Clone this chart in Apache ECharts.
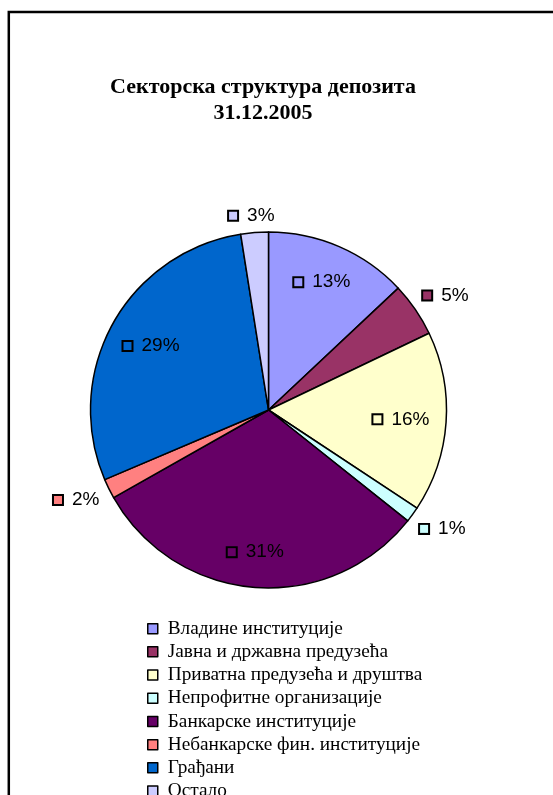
<!DOCTYPE html>
<html>
<head>
<meta charset="utf-8">
<style>html,body{margin:0;padding:0;background:#fff;}#chart{width:553px;height:795px;}</style>
<script src="https://cdn.jsdelivr.net/npm/echarts@6/dist/echarts.min.js"></script>
</head>
<body>
<div id="chart"></div>
<script>
const titleText = 'Секторска структура депозита\n31.12.2005';
const categories = ['Владине институције', 'Јавна и државна предузећа', 'Приватна предузећа и друштва', 'Непрофитне организације', 'Банкарске институције', 'Небанкарске фин. институције', 'Грађани', 'Остало'];
const shares = [13.0, 4.9, 16.4, 1.4, 31.1, 1.8, 28.9, 2.5];
const colors = ['#9999FF', '#993366', '#FFFFCC', '#CCFFFF', '#660066', '#FF8080', '#0066CC', '#CCCCFF'];

const CX = 268.5, CY = 410, R = 178, IN_GAP = 30, OUT_GAP = 9, LABEL_HH = 8;

const chart = echarts.init(document.getElementById('chart'));
const rich = { t: { fontFamily: 'Liberation Sans', fontSize: 19, color: '#000', padding: [0, 0, 0, 10], verticalAlign: 'middle' } };
colors.forEach((c, i) => {
  rich['s' + i] = { width: 8, height: 8, backgroundColor: c, borderColor: '#000', borderWidth: 2, verticalAlign: 'middle' };
});
const clamp = v => Math.max(-1, Math.min(1, v));

chart.setOption({
  animation: false,
  backgroundColor: '#fff',
  graphic: [{
    type: 'rect', shape: { x: 8.8, y: 12, width: 800, height: 1000 },
    style: { fill: 'none', stroke: '#000', lineWidth: 2.5 }, silent: true
  }],
  title: {
    text: titleText, left: 263, top: 74, textAlign: 'center', padding: 0,
    textStyle: { fontFamily: 'Liberation Serif', fontWeight: 'bold', fontSize: 22, lineHeight: 26, color: '#000' }
  },
  legend: {
    orient: 'vertical', left: 147, top: 619, height: 300, padding: 0, itemGap: 3.9,
    itemWidth: 10, itemHeight: 10, icon: 'rect',
    data: categories,
    itemStyle: { borderColor: '#000', borderWidth: 1.5 },
    textStyle: { fontFamily: 'Liberation Serif', fontSize: 19.3, lineHeight: 19.3, color: '#000', padding: [0, 0, 0, 5] }
  },
  series: [{
    type: 'pie', center: [CX, CY], radius: R, startAngle: 90, clockwise: true,
    avoidLabelOverlap: false, silent: true,
    data: categories.map((n, i) => ({ name: n, value: shares[i], itemStyle: { color: colors[i] } })),
    itemStyle: { borderColor: '#000', borderWidth: 1.5 },
    label: {
      show: true, position: 'inside', rich: rich,
      formatter: p => '{s' + p.dataIndex + '|}{t|' + Math.round(p.value) + '%}'
    },
    labelLine: { show: false },
    labelLayout: function (p) {
      const r = p.labelRect;
      const lx = r.x + r.width / 2, ly = r.y + r.height / 2;
      const dx = lx - CX, dy = ly - CY;
      const d = Math.hypot(dx, dy) || 1;
      const nx = dx / d, ny = dy / d;
      const hw = r.width / 2, hh = LABEL_HH;
      let x, y;
      if (shares[p.dataIndex] >= 10) {
        const support = Math.abs(nx) * hw + Math.abs(ny) * hh;
        const dist = R - IN_GAP - 0.5 * support;
        x = CX + nx * dist; y = CY + ny * dist;
      } else {
        const ax = CX + nx * (R + OUT_GAP), ay = CY + ny * (R + OUT_GAP);
        const fx = Math.sign(nx) * Math.max(0, Math.min(1, (Math.abs(nx) - 0.2) * 3));
        x = ax + hw * fx;
        y = ay + hh * clamp(ny * 3);
      }
      return { x: x, y: y, align: 'center', verticalAlign: 'middle' };
    }
  }]
});
</script>
</body>
</html>
